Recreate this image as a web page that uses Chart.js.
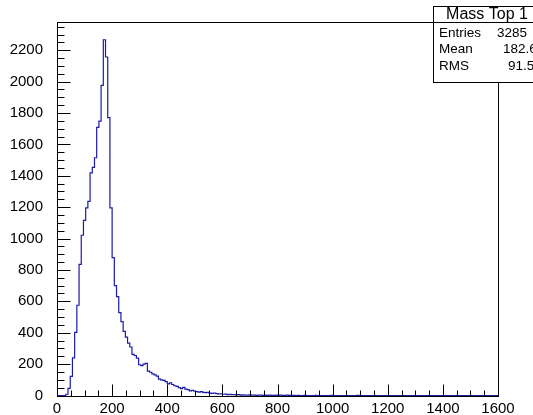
<!DOCTYPE html>
<html lang="en">
<head>
    <meta charset="UTF-8">
    <title>Mass Top 1</title>
    <style>
        body {
            margin: 0;
            padding: 0;
            background: #fff;
        }
        #chart-container {
            width: 533px;
            height: 415px;
        }
    </style>
</head>
<body>
    <div id="chart-container">
        <canvas id="massChart" width="533" height="415"></canvas>
    </div>

    <script src="https://cdn.jsdelivr.net/npm/chart.js"></script>
    <script>
        // histogram: 200 bins of 8 GeV from 0 to 1600
        var binWidth = 8;
        var counts = [
            0, 0, 0, 0, 8, 45, 122, 240, 402, 575,
            835, 1021, 1116, 1196, 1237, 1418, 1454, 1515, 1708, 1748,
            1976, 2267, 2157, 1771, 1196, 879, 700, 630, 528, 471,
            408, 372, 334, 309, 262, 255, 238, 196, 190, 200,
            205, 155, 148, 138, 132, 124, 104, 100, 96, 88,
            74, 80, 70, 62, 58, 50, 44, 52, 40, 38,
            30, 33, 27, 25, 22, 25, 20, 18, 20, 15,
            14, 16, 12, 10, 11, 8, 9, 6, 7, 5,
            5, 4, 6, 3, 4, 2, 3, 4, 2, 3,
            1, 2, 3, 1, 2, 1, 2, 1, 1, 2,
            1, 2, 1, 1, 2, 1, 0, 1, 0, 1,
            0, 0, 1, 0, 0, 0, 0, 1, 0, 0,
            0, 0, 0, 0, 1, 0, 0, 0, 0, 0,
            0, 0, 0, 0, 0, 0, 1, 0, 0, 0,
            0, 0, 0, 0, 0, 0, 0, 0, 0, 0,
            0, 0, 0, 0, 0, 0, 0, 0, 0, 0,
            0, 0, 0, 0, 0, 0, 0, 0, 0, 0,
            0, 0, 0, 0, 0, 0, 0, 0, 0, 0,
            0, 0, 0, 0, 0, 0, 0, 0, 0, 0,
            0, 0, 0, 0, 0, 0, 0, 0, 0, 0
        ];
        var xTicks = [0, 200, 400, 600, 800, 1000, 1200, 1400, 1600];
        var yTicks = [0, 200, 400, 600, 800, 1000, 1200, 1400, 1600, 1800, 2000, 2200];
        var minorStep = 50;
        var xMax = 1600;
        var yMax = 2380;

        var statsTitle = 'Mass Top 1';
        var statsLabels = ['Entries', 'Mean', 'RMS'];
        var statsValues = ['3285', '182.6', '91.5'];

        var points = counts.map(function (c, i) { return { x: i * binWidth, y: c }; });
        points.push({ x: counts.length * binWidth, y: 0 });

        var fontFamily = '"Liberation Sans", Arial, sans-serif';

        // ROOT style frame, inward ticks and the stats box
        var rootFrame = {
            id: 'rootFrame',
            afterDraw: function (chart) {
                var ctx = chart.ctx, a = chart.chartArea;
                var xs = chart.scales.x, ys = chart.scales.y;
                ctx.save();
                ctx.strokeStyle = '#000';
                ctx.lineWidth = 1;
                var left = Math.round(a.left) + 0.5, right = Math.round(a.right) + 0.5;
                var top = Math.round(a.top) + 0.5, bottom = Math.round(a.bottom) + 0.5;
                ctx.strokeRect(left, top, right - left, bottom - top);

                ctx.beginPath();
                for (var v = 0; v <= yMax; v += minorStep) {
                    var py = Math.round(ys.getPixelForValue(v)) + 0.5;
                    var len = (v % 200 === 0) ? 13 : 7;
                    ctx.moveTo(left, py);
                    ctx.lineTo(left + len, py);
                }
                for (var u = 0; u <= xMax; u += minorStep) {
                    var px = Math.round(xs.getPixelForValue(u)) + 0.5;
                    var lenx = (u % 200 === 0) ? 12 : 6;
                    ctx.moveTo(px, bottom);
                    ctx.lineTo(px, bottom - lenx);
                }
                ctx.stroke();

                // stats box, runs off the right edge like the original
                var bx = 433.5, by = 6.5, bw = 107, bh = 76;
                ctx.fillStyle = '#fff';
                ctx.fillRect(bx, by, bw, bh);
                ctx.strokeRect(bx, by, bw, bh);
                ctx.beginPath();
                ctx.moveTo(bx, 22.5);
                ctx.lineTo(bx + bw, 22.5);
                ctx.stroke();

                ctx.fillStyle = '#000';
                ctx.textBaseline = 'middle';
                ctx.font = '16px ' + fontFamily;
                ctx.textAlign = 'center';
                ctx.fillText(statsTitle, bx + bw / 2, 15);

                ctx.font = '13.5px ' + fontFamily;
                ctx.textAlign = 'left';
                var rowY = [33, 49.5, 66];
                var valX = [497, 503, 508];
                for (var k = 0; k < statsLabels.length; k++) {
                    ctx.fillText(statsLabels[k], 439, rowY[k]);
                    ctx.fillText(statsValues[k], valX[k], rowY[k]);
                }
                ctx.restore();
            }
        };

        function plainLabel(value) {
            return String(value);
        }

        var ctx = document.getElementById('massChart').getContext('2d');
        var massChart = new Chart(ctx, {
            type: 'line',
            data: {
                datasets: [{
                    label: statsTitle,
                    data: points,
                    borderColor: '#1b1ba8',
                    borderWidth: 1.2,
                    pointRadius: 0,
                    stepped: 'before',
                    fill: false,
                    tension: 0,
                    clip: false
                }]
            },
            options: {
                responsive: false,
                animation: false,
                events: [],
                layout: {
                    padding: { top: 22, right: 35, left: 0, bottom: 0 }
                },
                plugins: {
                    legend: { display: false },
                    tooltip: { enabled: false },
                    title: { display: false }
                },
                scales: {
                    x: {
                        type: 'linear',
                        min: 0,
                        max: xMax,
                        grid: { display: false },
                        border: { display: false },
                        afterBuildTicks: function (axis) {
                            axis.ticks = xTicks.map(function (v) { return { value: v }; });
                        },
                        afterFit: function (axis) { axis.height = 19.5; },
                        ticks: {
                            autoSkip: false,
                            maxRotation: 0,
                            padding: -2,
                            color: '#000',
                            font: { family: fontFamily, size: 15, lineHeight: 1 },
                            callback: plainLabel
                        }
                    },
                    y: {
                        type: 'linear',
                        min: 0,
                        max: yMax,
                        grid: { display: false },
                        border: { display: false },
                        afterBuildTicks: function (axis) {
                            axis.ticks = yTicks.map(function (v) { return { value: v }; });
                        },
                        afterFit: function (axis) { axis.width = 57; },
                        ticks: {
                            padding: 6,
                            color: '#000',
                            font: { family: fontFamily, size: 15 },
                            callback: plainLabel
                        }
                    }
                }
            },
            plugins: [rootFrame]
        });
    </script>
</body>
</html>
